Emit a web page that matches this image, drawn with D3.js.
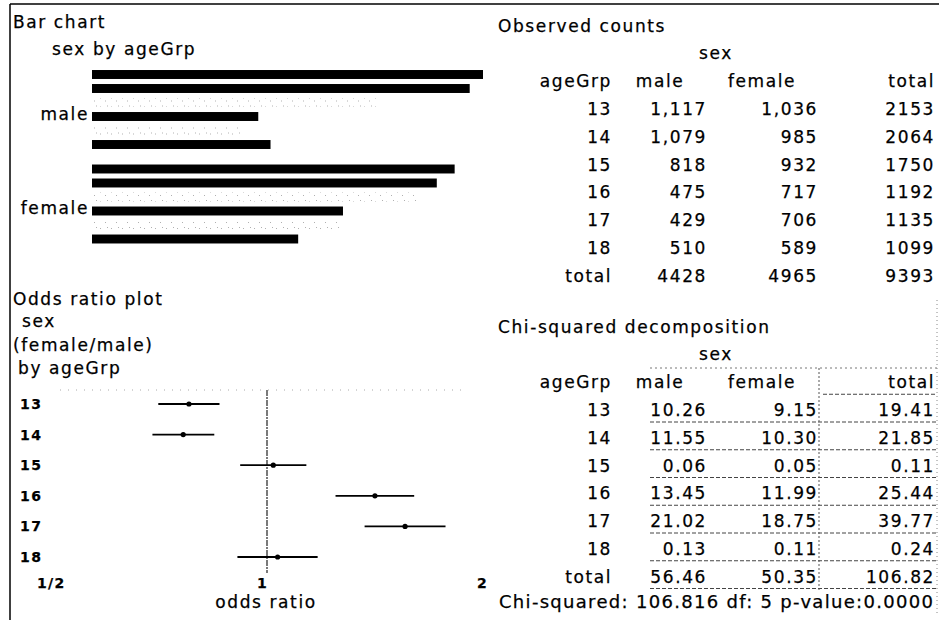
<!DOCTYPE html>
<html>
<head>
<meta charset="utf-8">
<script src="https://cdn.jsdelivr.net/npm/d3@7"></script>
<style>
  html, body { margin: 0; padding: 0; background: #fff; }
  svg { display: block; }
  text { font-family: "DejaVu Sans", sans-serif; fill: #000; stroke: #000; stroke-width: 0.25px; }
</style>
</head>
<body>
<svg id="chart" width="939" height="620"></svg>
<script>
// ---- data -------------------------------------------------------------
const ageGroups = ["13", "14", "15", "16", "17", "18"];
const sexes = ["male", "female"];

const maleCounts = [1117, 1079, 818, 475, 429, 510];
const femaleCounts = [1036, 985, 932, 717, 706, 589];
const rowTotals = [2153, 2064, 1750, 1192, 1135, 1099];
const colTotals = [4428, 4965];
const grandTotal = 9393;

const chiMale = [10.26, 11.55, 0.06, 13.45, 21.02, 0.13];
const chiFemale = [9.15, 10.30, 0.05, 11.99, 18.75, 0.11];
const chiRowTotals = [19.41, 21.85, 0.11, 25.44, 39.77, 0.24];
const chiColTotals = [56.46, 50.35];
const chiGrandTotal = 106.82;
const chiStat = 106.816, chiDf = 5, chiP = 0.0000;

// odds (female/male) in each age group relative to all other groups, with 95% limits
const oddsRatio = [0.782, 0.768, 1.020, 1.405, 1.545, 1.034];
const oddsLow   = [0.710, 0.697, 0.919, 1.241, 1.360, 0.911];
const oddsHigh  = [0.861, 0.847, 1.132, 1.590, 1.755, 1.173];
const oddsTicks = [0.5, 1, 2];
const oddsTickLabels = ["1/2", "1", "2"];

// ---- setup ------------------------------------------------------------
const svg = d3.select("#chart");
const countsBySex = { male: maleCounts, female: femaleCounts };
// groups 15 and 17 are drawn in a pale tone
const paleAges = new Set(["15", "17"]);

const defs = svg.append("defs");
const pat = defs.append("pattern").attr("id", "pale")
  .attr("patternUnits", "userSpaceOnUse").attr("width", 11).attr("height", 9);
pat.append("rect").attr("width", 11).attr("height", 9).attr("fill", "#fff");
[[1, 3], [6, 6], [8, 2]].forEach(([x, y]) =>
  pat.append("rect").attr("x", x).attr("y", y).attr("width", 1).attr("height", 1).attr("fill", "#b0b0b0"));

function label(g, x, y, txt, opts = {}) {
  return g.append("text")
    .attr("x", x).attr("y", y)
    .attr("text-anchor", opts.anchor || "start")
    .style("font-size", (opts.size || 17) + "px")
    .style("letter-spacing", (opts.ls === undefined ? 1.6 : opts.ls) + "px")
    .style("font-weight", opts.weight || "normal")
    .text(txt);
}

// frame
svg.append("line").attr("x1", 10).attr("x2", 939).attr("y1", 4).attr("y2", 4)
  .attr("stroke", "#000").attr("stroke-width", 1.5);
svg.append("line").attr("x1", 10).attr("x2", 10).attr("y1", 4).attr("y2", 620)
  .attr("stroke", "#000").attr("stroke-width", 1.5);

// ---- bar chart --------------------------------------------------------
const bar = svg.append("g");
label(bar, 13, 28, "Bar chart");
label(bar, 52, 55, "sex by ageGrp");

const xBar = d3.scaleLinear().domain([0, d3.max(maleCounts.concat(femaleCounts))]).range([92, 483]);
const ySex = d3.scaleBand().domain(sexes).range([67.5, 246]).paddingInner(0.111).paddingOuter(0);
const yAge = d3.scaleBand().domain(ageGroups).range([0, ySex.bandwidth()]).paddingInner(0.36).paddingOuter(0.18);

sexes.forEach(sex => {
  const g = bar.append("g").attr("transform", `translate(0,${ySex(sex)})`);
  g.selectAll("rect").data(ageGroups.map((a, i) => ({ age: a, v: countsBySex[sex][i] })))
    .join("rect")
    .attr("x", xBar(0))
    .attr("y", d => yAge(d.age))
    .attr("width", d => xBar(d.v) - xBar(0))
    .attr("height", yAge.bandwidth())
    .attr("fill", d => paleAges.has(d.age) ? "url(#pale)" : "#000");
  label(bar, 89, ySex(sex) + ySex.bandwidth() / 2 + 10, sex, { anchor: "end" });
});

// ---- odds ratio plot --------------------------------------------------
const orp = svg.append("g");
label(orp, 13, 305, "Odds ratio plot");
label(orp, 22, 327, "sex");
label(orp, 13, 351, "(female/male)");
label(orp, 18, 374, "by ageGrp");

const xOdds = d3.scaleLog().base(2).domain([0.5, 2]).range([47, 487]);
const yOdds = d3.scalePoint().domain(ageGroups).range([404, 557]);

orp.append("line").attr("x1", 60).attr("x2", 465).attr("y1", 390).attr("y2", 390)
  .attr("stroke", "#aaa").attr("stroke-dasharray", "1,7");
orp.append("line").attr("x1", xOdds(1)).attr("x2", xOdds(1)).attr("y1", 390).attr("y2", 573)
  .attr("stroke", "#222").attr("stroke-width", 1.2).attr("stroke-dasharray", "6,1,2,1");

const oddsRows = ageGroups.map((a, i) => ({ age: a, est: oddsRatio[i], lo: oddsLow[i], hi: oddsHigh[i] }));
orp.selectAll("line.ci").data(oddsRows).join("line").attr("class", "ci")
  .attr("x1", d => xOdds(d.lo)).attr("x2", d => xOdds(d.hi))
  .attr("y1", d => yOdds(d.age)).attr("y2", d => yOdds(d.age))
  .attr("stroke", "#000").attr("stroke-width", 1.8);
orp.selectAll("circle.est").data(oddsRows).join("circle").attr("class", "est")
  .attr("cx", d => xOdds(d.est)).attr("cy", d => yOdds(d.age)).attr("r", 2.6)
  .attr("fill", "#000");

ageGroups.forEach(a => label(orp, 20, yOdds(a) + 5, a, { size: 14, weight: "bold", ls: 1.5 }));
oddsTicks.forEach((t, i) => label(orp, xOdds(t) - 10, 588, oddsTickLabels[i], { size: 14, weight: "bold", ls: 1.3 }));
label(orp, xOdds(1) - 1, 608, "odds ratio", { anchor: "middle" });

// ---- tables -----------------------------------------------------------
const colRight = { age: 610, male: 705, female: 816, total: 933 };
const headerX = { male: 660, female: 762 };
const fmtCount = d3.format(",");
const fmt2 = d3.format(".2f");

function drawTable(g, top, title, rowVals, totalVals, fmtRow, fmtTot) {
  // top = baseline of the first data row
  const step = 27.75;
  label(g, 498, top - 83, title);
  label(g, 716, top - 56, "sex", { anchor: "middle" });
  label(g, colRight.age + 2, top - step, "ageGrp", { anchor: "end" });
  label(g, headerX.male, top - step, "male", { anchor: "middle" });
  label(g, headerX.female, top - step, "female", { anchor: "middle" });
  label(g, colRight.total + 2, top - step, "total", { anchor: "end" });
  ageGroups.forEach((a, i) => {
    const y = top + i * step;
    label(g, colRight.age + 2, y, a, { anchor: "end" });
    label(g, colRight.male + 2, y, fmtRow(rowVals.male[i]), { anchor: "end" });
    label(g, colRight.female + 2, y, fmtRow(rowVals.female[i]), { anchor: "end" });
    label(g, colRight.total + 2, y, fmtTot(rowVals.total[i]), { anchor: "end" });
  });
  const yt = top + 6 * step;
  label(g, colRight.age + 2, yt, "total", { anchor: "end" });
  label(g, colRight.male + 2, yt, fmtTot(totalVals[0]), { anchor: "end" });
  label(g, colRight.female + 2, yt, fmtTot(totalVals[1]), { anchor: "end" });
  label(g, colRight.total + 2, yt, fmtTot(totalVals[2]), { anchor: "end" });
  return step;
}

const obs = svg.append("g");
drawTable(obs, 115, "Observed counts",
  { male: maleCounts, female: femaleCounts, total: rowTotals },
  [colTotals[0], colTotals[1], grandTotal],
  v => fmtCount(v), v => String(v));

const chi = svg.append("g");
// cell rules of the decomposition table
const chiTop = 416;
const ruleYs = d3.range(0, 8).map(i => chiTop + 6 + (i - 1) * 27.75);
chi.selectAll("line.rule").data(ruleYs).join("line").attr("class", "rule")
  .attr("x1", (d, i) => i === 0 ? 823 : 650).attr("x2", 937)
  .attr("y1", d => d).attr("y2", d => d)
  .attr("stroke", "#444").attr("stroke-width", 1).attr("stroke-dasharray", "4,2");
chi.append("line").attr("x1", 650).attr("x2", 937).attr("y1", 368).attr("y2", 368)
  .attr("stroke", "#777").attr("stroke-dasharray", "2,3");
chi.append("line").attr("x1", 819).attr("x2", 819).attr("y1", 368).attr("y2", 590)
  .attr("stroke", "#555").attr("stroke-dasharray", "2,2");
chi.append("line").attr("x1", 937).attr("x2", 937).attr("y1", 300).attr("y2", 615)
  .attr("stroke", "#888").attr("stroke-dasharray", "1,3");

drawTable(chi, chiTop, "Chi-squared decomposition",
  { male: chiMale, female: chiFemale, total: chiRowTotals },
  [chiColTotals[0], chiColTotals[1], chiGrandTotal],
  fmt2, fmt2);

label(chi, 499, 608, `Chi-squared: ${chiStat.toFixed(3)} df: ${chiDf} p-value:${chiP.toFixed(4)}`, { size: 18, ls: 1.3 });
</script>
</body>
</html>
